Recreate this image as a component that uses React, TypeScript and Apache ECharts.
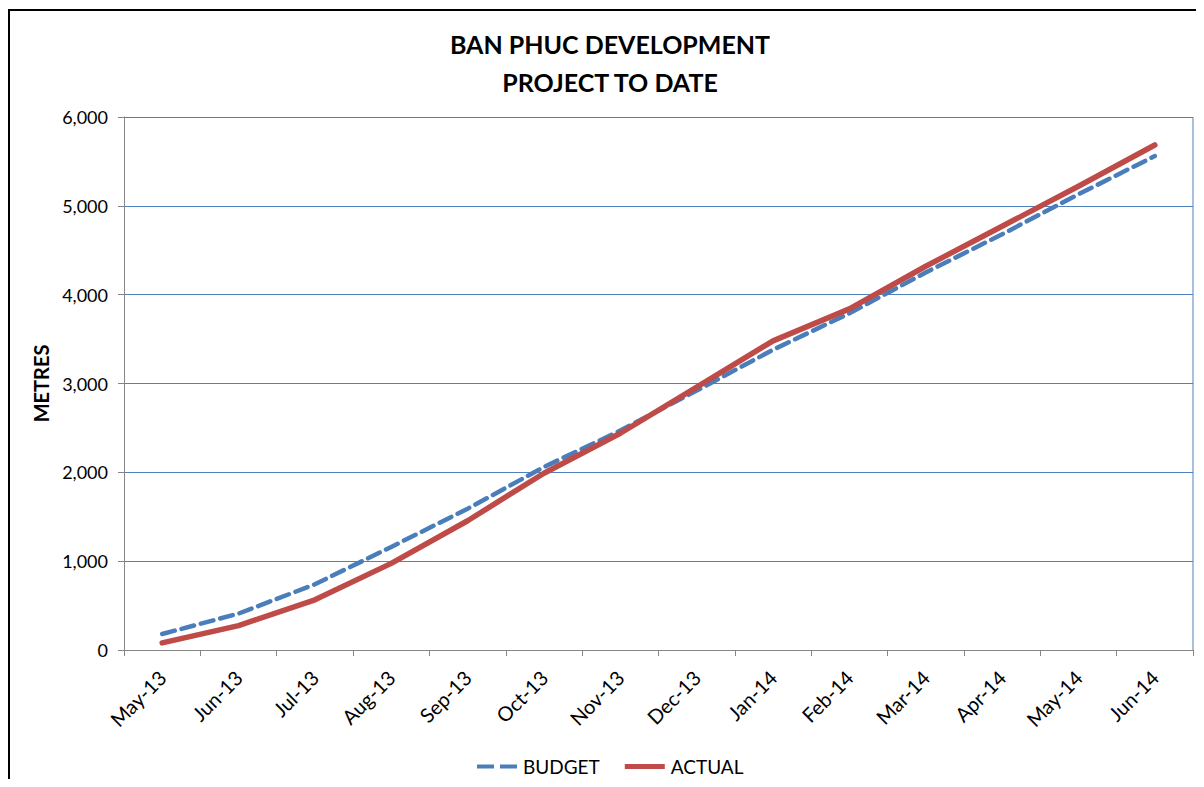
import React, { useEffect, useRef } from "react";
import * as echarts from "echarts";

const titleLines = ["BAN PHUC DEVELOPMENT", "PROJECT TO DATE"];
const yAxisName = "METRES";
const categories = [
  "May-13", "Jun-13", "Jul-13", "Aug-13", "Sep-13", "Oct-13", "Nov-13",
  "Dec-13", "Jan-14", "Feb-14", "Mar-14", "Apr-14", "May-14", "Jun-14",
];
const budget = [180, 410, 740, 1160, 1590, 2060, 2470, 2920, 3380, 3790, 4250, 4680, 5130, 5560];
const actual = [80, 275, 565, 975, 1455, 1990, 2440, 2960, 3480, 3840, 4320, 4770, 5220, 5685];

const FONT = "Lato, 'Open Sans', sans-serif";

export default function App() {
  const ref = useRef<HTMLDivElement>(null);
  useEffect(() => {
    if (!ref.current) return;
    const chart = echarts.init(ref.current, undefined, { renderer: "svg" });
    chart.setOption({
      animation: false,
      textStyle: { fontFamily: FONT },
      graphic: [
        { type: "line", shape: { x1: 1, y1: 1, x2: 1, y2: 800 }, style: { stroke: "#000", lineWidth: 2 } },
        { type: "line", shape: { x1: 0, y1: 2, x2: 1300, y2: 2 }, style: { stroke: "#000", lineWidth: 2 } },
        {
          type: "text", x: 602, y: 36,
          style: { text: titleLines[0], fontFamily: FONT, fontWeight: "bold", fontSize: 25, fill: "#000", align: "center", verticalAlign: "middle" },
        },
        {
          type: "text", x: 602, y: 74,
          style: { text: titleLines[1], fontFamily: FONT, fontWeight: "bold", fontSize: 25, fill: "#000", align: "center", verticalAlign: "middle" },
        },
        { type: "line", shape: { x1: 1185, y1: 109, x2: 1185, y2: 642 }, style: { stroke: "#4F81BD", lineWidth: 1 } },
      ],
      grid: { left: 116, right: 3, top: 109, bottom: 137, containLabel: false },
      legend: {
        bottom: 6,
        left: 464,
        itemWidth: 40,
        itemHeight: 14,
        itemGap: 25,
        textStyle: { fontFamily: FONT, fontSize: 19, color: "#000", padding: [0, 0, 0, 1] },
        data: [
          { name: "BUDGET", icon: "path://M0,5 h17 v4 h-17 z M23,5 h17 v4 h-17 z", itemStyle: { color: "#4A7EBB" } },
          { name: "ACTUAL", icon: "path://M0,4.5 h40 v5 h-40 z", itemStyle: { color: "#BE4B48" } },
        ],
      },
      xAxis: {
        type: "category",
        data: categories,
        boundaryGap: true,
        axisLine: { lineStyle: { color: "#868686", width: 1 } },
        axisTick: { show: true, length: 6, lineStyle: { color: "#868686" } },
        axisLabel: { rotate: 45, fontSize: 20, color: "#000", margin: 24, fontFamily: FONT, interval: 0 },
        splitLine: { show: false },
      },
      yAxis: {
        type: "value",
        min: 0,
        max: 6000,
        interval: 1000,
        name: yAxisName,
        nameLocation: "middle",
        nameGap: 71,
        nameTextStyle: { fontFamily: FONT, fontWeight: "bold", fontSize: 20, color: "#000" },
        axisLine: { show: true, lineStyle: { color: "#868686", width: 1 } },
        axisTick: { show: true, length: 6, lineStyle: { color: "#868686" } },
        axisLabel: {
          fontSize: 18, color: "#000", margin: 16, fontFamily: FONT,
          formatter: (v: number) => v.toLocaleString("en-US"),
        },
        splitLine: { show: true, lineStyle: { color: "#4F81BD", width: 1 } },
      },
      series: [
        {
          name: "BUDGET",
          type: "line",
          data: budget,
          symbol: "none",
          lineStyle: { color: "#4A7EBB", width: 4.5, type: [13, 7], cap: "round" },
          itemStyle: { color: "#4A7EBB" },
          z: 2,
        },
        {
          name: "ACTUAL",
          type: "line",
          data: actual,
          symbol: "none",
          lineStyle: { color: "#BE4B48", width: 5.5, cap: "round", join: "round" },
          itemStyle: { color: "#BE4B48" },
          z: 3,
        },
      ],
    });
    return () => chart.dispose();
  }, []);
  return <div ref={ref} style={{ width: 1188, height: 779, marginBottom: -8 }} />;
}
